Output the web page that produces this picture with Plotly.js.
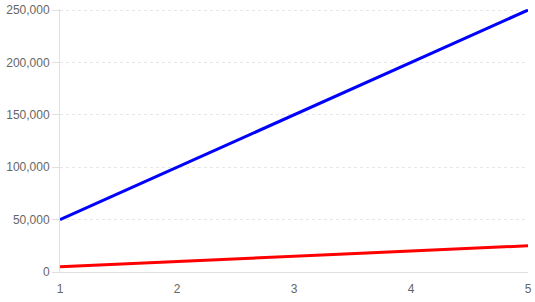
<!DOCTYPE html>
<html>
<head>
<meta charset="utf-8">
<script src="https://cdn.plot.ly/plotly-3.0.1.min.js"></script>
<style>html,body{margin:0;padding:0;background:#fff;}#chart{width:535px;height:302px;}</style>
</head>
<body>
<div id="chart"></div>
<script>
const xValues = [1, 2, 3, 4, 5];
const blueSeries = [50000, 100000, 150000, 200000, 250000];
const redSeries = [5000, 10000, 15000, 20000, 25000];
const yTicks = [0, 50000, 100000, 150000, 200000, 250000];
const yTickLabels = ['0', '50,000', '100,000', '150,000', '200,000', '250,000'];

const traces = [
  {x: xValues, y: blueSeries, mode: 'lines', line: {color: '#0000ff', width: 3}, hoverinfo: 'none', cliponaxis: false},
  {x: xValues, y: redSeries, mode: 'lines', line: {color: '#ff0000', width: 3}, hoverinfo: 'none', cliponaxis: false}
];

const layout = {
  width: 535, height: 302,
  margin: {l: 60, r: 7, t: 9, b: 30},
  showlegend: false,
  paper_bgcolor: '#fff', plot_bgcolor: '#fff',
  font: {family: 'Liberation Sans, Arial, sans-serif', size: 12, color: '#666'},
  xaxis: {
    range: [1, 5], tickvals: xValues, ticktext: xValues.map(String),
    showgrid: false, zeroline: false,
    showline: true, linecolor: '#e0e0e0', linewidth: 1,
    ticks: '', ticklabelstandoff: 6
  },
  yaxis: {
    range: [0, 251000], tickvals: yTicks, ticktext: yTickLabels,
    showgrid: true, gridcolor: '#e6e6e6', griddash: '3px,3px', gridwidth: 1,
    zeroline: false,
    showline: true, linecolor: '#e0e0e0', linewidth: 1,
    ticks: 'outside', ticklen: 7, tickcolor: '#e0e0e0', tickwidth: 1
  }
};

Plotly.newPlot('chart', traces, layout, {displayModeBar: false, staticPlot: true});
</script>
</body>
</html>
